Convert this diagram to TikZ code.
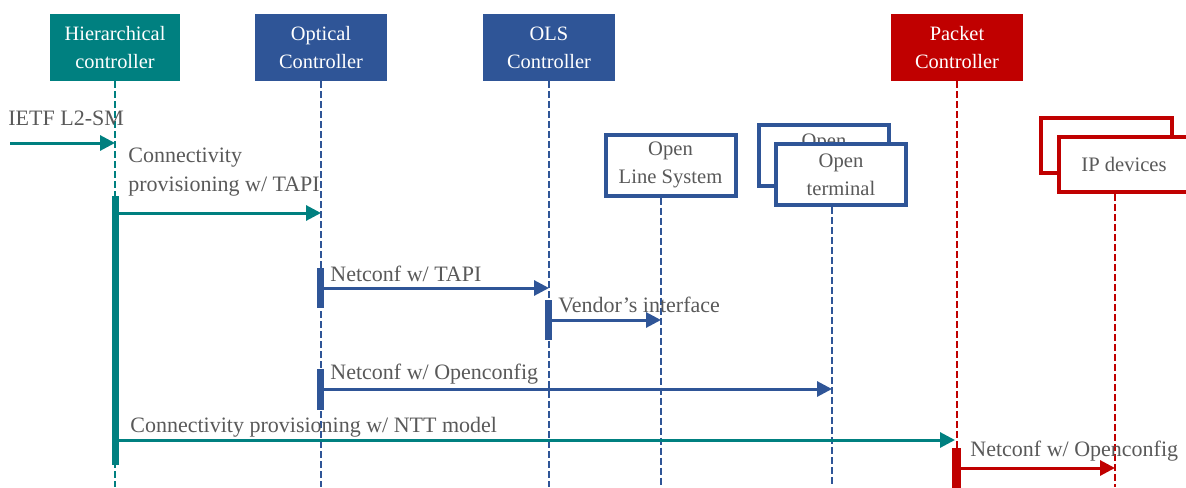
\documentclass[tikz,border=0pt]{standalone}
\usepackage{fontspec}
\setmainfont{Liberation Serif}
\usetikzlibrary{arrows.meta,positioning}
\definecolor{hteal}{RGB}{0,128,128}
\definecolor{oblue}{RGB}{47,85,151}
\definecolor{pred}{RGB}{192,0,0}
\definecolor{lgray}{RGB}{89,89,89}
\begin{document}
\begin{tikzpicture}[x=0.5pt,y=-0.5pt]
\tikzset{
  head/.style={fill=#1,text=white,minimum width=66pt,minimum height=33.5pt,align=center,inner sep=0pt,font=\fontsize{10.2}{14}\selectfont},
  dev/.style={draw=#1,line width=2pt,fill=white,text=lgray,minimum width=65pt,minimum height=30.5pt,align=center,inner sep=0pt,font=\fontsize{10.3}{14}\selectfont},
  life/.style={draw=#1,line width=1pt,dash pattern=on 3.5pt off 1.5pt},
  actbar/.style={fill=#1,minimum width=3.5pt,inner sep=0pt},
  msg/.style={draw=#1,line width=1.5pt,-{Triangle[length=7.5pt,width=7.5pt]}},
  lbl/.style={text=lgray,inner sep=0pt,font=\fontsize{11}{14.5}\selectfont}
}
\useasboundingbox (0,0) rectangle (1186,487);
\coordinate (bottom) at (0,487);
% controllers
\node[head=hteal,minimum width=65pt] (hc) at (115,47.5) {Hierarchical\\controller};
\node[head=oblue] (opt) at (321,47.5) {Optical\\Controller};
\node[head=oblue] (ols) at (549,47.5) {OLS\\Controller};
\node[head=pred] (pkt) at (957,47.5) {Packet\\Controller};
% devices
\node[dev=oblue] (olsys) at (670.5,165) {Open\\Line System};
\node[dev=oblue] (otb) at (824,155) {Open\\terminal};
\node[dev=oblue] (ot) at (841,174.5) {Open\\terminal};
\node[dev=pred,minimum width=65.5pt,minimum height=27.5pt] (ipb) at (1106.5,145.5) {};
\node[dev=pred,minimum width=65.5pt,minimum height=27.5pt] (ip) at (1124,164.5) {IP devices};
\coordinate (olsl) at ([xshift=-4.75pt]olsys.south);
\coordinate (otl) at ([xshift=-4.5pt]ot.south);
\coordinate (ipl) at ([xshift=-4.5pt]ip.south);
% lifelines
\draw[life=hteal] (hc.south) -- (hc.south |- bottom);
\draw[life=oblue] (opt.south) -- (opt.south |- bottom);
\draw[life=oblue] (ols.south) -- (ols.south |- bottom);
\draw[life=pred] (pkt.south) -- (pkt.south |- bottom);
\draw[life=oblue] (olsl) -- (olsl |- bottom);
\draw[life=oblue] (otl) -- (otl |- bottom);
\draw[life=pred] (ipl) -- (ipl |- bottom);
% activations
\node[actbar=hteal,minimum height=134.5pt] (hcb) at (115.5,330.5) {};
\node[actbar=oblue,minimum height=20pt] (ob1) at (320,288) {};
\node[actbar=oblue,minimum height=20pt] (olsb) at (548.5,320) {};
\node[actbar=oblue,minimum height=20.5pt] (ob2) at (320,389) {};
\node[actbar=pred,minimum height=20pt,minimum width=4.5pt] (pb) at (956.5,468) {};
% messages
\coordinate (ietf) at (10,143);
\coordinate (m1) at (0,213);
\coordinate (m2) at (0,440);
\draw[msg=hteal] (ietf) -- (ietf -| hc.south);
\draw[msg=hteal] (hcb.east |- m1) -- (opt.south |- m1);
\draw[msg=oblue] (ob1.east) -- (ob1.east -| ols.south);
\draw[msg=oblue] (olsb.east) -- (olsb.east -| olsl);
\draw[msg=oblue] (ob2.east) -- (ob2.east -| otl);
\draw[msg=hteal] (hcb.east |- m2) -- ([xshift=-1pt]pkt.south |- m2);
\draw[msg=pred] (pb.east) -- (pb.east -| ipl);
% labels
\node[lbl,anchor=base west] (l0) at (8,125) {IETF L2-SM};
\node[lbl,anchor=north west,align=left] (l1) at (128,148) {Connectivity\\provisioning w/ TAPI};
\node[lbl,anchor=base west] (l2) at (330,281) {Netconf w/ TAPI};
\node[lbl,anchor=base west] (l3) at (558,312) {Vendor’s interface};
\node[lbl,anchor=base west] (l4) at (330,379) {Netconf w/ Openconfig};
\node[lbl,anchor=base west] (l5) at (130,432) {Connectivity provisioning w/ NTT model};
\node[lbl,anchor=base west] (l6) at (970,456) {Netconf w/ Openconfig};
\end{tikzpicture}
\end{document}
